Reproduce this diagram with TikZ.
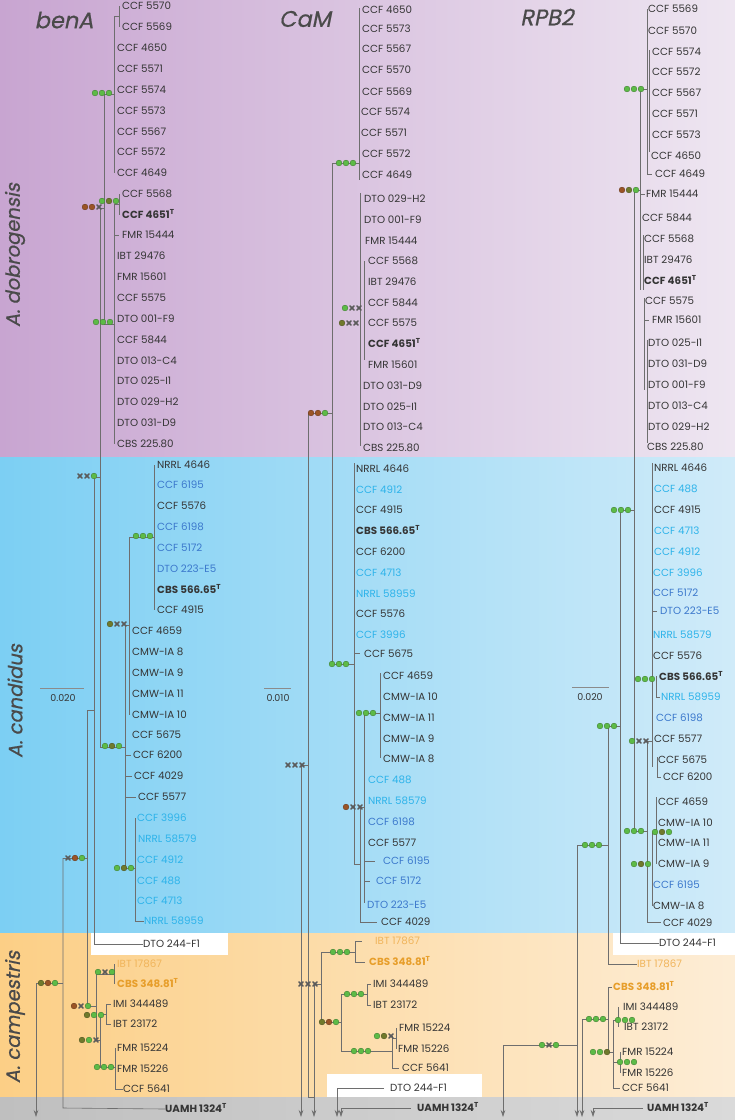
\documentclass[tikz,border=0pt]{standalone}
\usepackage{fontspec}
\setmainfont{Poppins}
\newfontfamily\slfont{Poppins}[FakeSlant=0.2, FakeBold=0.6]
\usetikzlibrary{arrows.meta}
\definecolor{labc}{HTML}{353535}
\definecolor{labcyan}{HTML}{2DB3EA}
\definecolor{labblue}{HTML}{3B78CC}
\definecolor{laborl}{HTML}{F0B45A}
\definecolor{labor}{HTML}{E79E2A}
\definecolor{branch}{HTML}{6E6E6E}
\definecolor{dotg}{HTML}{5DBB47}
\definecolor{doto}{HTML}{707A2C}
\definecolor{dotb}{HTML}{9B5426}
\definecolor{xcol}{HTML}{5A5A5A}
\definecolor{purL}{HTML}{C8A5D1}
\definecolor{purR}{HTML}{EEE6F1}
\definecolor{bluL}{HTML}{7CCFF3}
\definecolor{bluR}{HTML}{D0EBF9}
\definecolor{orL}{HTML}{FCCF86}
\definecolor{orR}{HTML}{FDEDD6}
\definecolor{grL}{HTML}{BFBFBF}
\definecolor{grR}{HTML}{DADADA}
\definecolor{hdr}{HTML}{4A4A4A}
\tikzset{
 lb/.style={anchor=west, inner sep=0pt, text height=7.2pt, text depth=0pt, font=\fontsize{10.3}{11}\selectfont, text=labc},
 lc/.style={lb, text=labcyan},
 lu/.style={lb, text=labblue},
 lol/.style={lb, text=laborl},
 lor/.style={lb, text=labor, font=\fontsize{10.3}{11}\selectfont\bfseries},
 lbf/.style={lb, font=\fontsize{10.3}{11}\selectfont\bfseries},
 br/.style={draw=branch, line width=0.6pt},
 ar/.style={br, -{Stealth[length=7pt,width=4.5pt]}},
 xm/.style={draw=xcol, line width=1.7pt, line cap=round},
 hd/.style={font=\fontsize{22.5}{24}\selectfont\slfont, text=hdr},
 sd/.style={font=\fontsize{19.5}{21}\selectfont\slfont, text=hdr, rotate=90},
 sc/.style={draw=branch!80, line width=0.6pt},
 scl/.style={font=\fontsize{9.5}{10}\selectfont, text=labc},
}
\newcommand\dt[3]{\if x#1\relax\draw[xm] ({#2-2.1},{#3-2.1})--({#2+2.1},{#3+2.1}) ({#2-2.1},{#3+2.1})--({#2+2.1},{#3-2.1});\else\filldraw[fill=dot#1,draw=dot#1!65!black,line width=0.35pt] ({#2},{#3}) circle[radius=2.9];\fi}
\newcommand\trio[5]{\dt{#3}{#1-14}{#2}\dt{#4}{#1-7}{#2}\dt{#5}{#1}{#2}}
\begin{document}
\begin{tikzpicture}[x=1pt,y=-1pt]
\useasboundingbox (0,0) rectangle (735,1120);
% backgrounds
\shade[left color=purL, right color=purR] (0,0) rectangle (735,457);
\shade[left color=bluL, right color=bluR] (0,457) rectangle (735,933);
\shade[left color=orL, right color=orR] (0,933) rectangle (735,1097);
\shade[left color=grL, right color=grR] (0,1097) rectangle (735,1120);
\fill[white] (91,933) rectangle (228,955);
\fill[white] (613,933) rectangle (735,955);
\fill[white] (327,1074) rectangle (482,1097);
% headers and side labels
\node[hd] (hbenA) at (64,20) {benA};
\node[hd] (hCaM) at (305,19) {CaM};
\node[hd] (hRPB) at (547,17) {RPB2};
\node[sd] (sdob) at (15,255) {A. dobrogensis};
\node[sd] (scan) at (15,701) {A. candidus};
\node[sd] (scam) at (15,1017) {A. campestris};
% scale bars
\draw[sc] (40,688)--(84,688); \node[scl] (s1) at (63,698) {0.020};
\draw[sc] (264,688)--(291,688); \node[scl] (s2) at (278,698) {0.010};
\draw[sc] (572,687)--(609,687); \node[scl] (s3) at (590,697) {0.020};

% ================= benA labels
\node[lb] (a1) at (122,6) {CCF 5570};
\node[lb] (a2) at (122,27) {CCF 5569};
\node[lb] (a3) at (117,48) {CCF 4650};
\node[lb] (a4) at (117,69) {CCF 5571};
\node[lb] (a5) at (117,90) {CCF 5574};
\node[lb] (a6) at (117,111) {CCF 5573};
\node[lb] (a7) at (117,132) {CCF 5567};
\node[lb] (a8) at (117,152) {CCF 5572};
\node[lb] (a9) at (117,173) {CCF 4649};
\node[lb] (a10) at (122,194) {CCF 5568};
\node[lbf] (a11) at (122,215) {CCF 4651\textsuperscript{T}};
\node[lb] (a12) at (122,235) {FMR 15444};
\node[lb] (a13) at (117,256) {IBT 29476};
\node[lb] (a14) at (117,277) {FMR 15601};
\node[lb] (a15) at (117,298) {CCF 5575};
\node[lb] (a16) at (117,319) {DTO 001-F9};
\node[lb] (a17) at (117,340) {CCF 5844};
\node[lb] (a18) at (117,361) {DTO 013-C4};
\node[lb] (a19) at (117,381) {DTO 025-I1};
\node[lb] (a20) at (117,402) {DTO 029-H2};
\node[lb] (a21) at (117,423) {DTO 031-D9};
\node[lb] (a22) at (117,444) {CBS 225.80};
\node[lb] (a23) at (157,465) {NRRL 4646};
\node[lu] (a24) at (157,485) {CCF 6195};
\node[lb] (a25) at (157,506) {CCF 5576};
\node[lu] (a26) at (157,527) {CCF 6198};
\node[lu] (a27) at (157,548) {CCF 5172};
\node[lu] (a28) at (157,569) {DTO 223-E5};
\node[lbf] (a29) at (157,590) {CBS 566.65\textsuperscript{T}};
\node[lb] (a30) at (157,610) {CCF 4915};
\node[lb] (a31) at (132,631) {CCF 4659};
\node[lb] (a32) at (132,652) {CMW-IA 8};
\node[lb] (a33) at (132,673) {CMW-IA 9};
\node[lb] (a34) at (132,694) {CMW-IA 11};
\node[lb] (a35) at (132,715) {CMW-IA 10};
\node[lb] (a36) at (132,735) {CCF 5675};
\node[lb] (a37) at (133,755) {CCF 6200};
\node[lb] (a38) at (134,776) {CCF 4029};
\node[lb] (a39) at (138,797) {CCF 5577};
\node[lc] (a40) at (137,818) {CCF 3996};
\node[lc] (a41) at (138,839) {NRRL 58579};
\node[lc] (a42) at (137,860) {CCF 4912};
\node[lc] (a43) at (137,881) {CCF 488};
\node[lc] (a44) at (137,901) {CCF 4713};
\node[lc] (a45) at (144,921) {NRRL 58959};
\node[lb] (a46) at (143,944) {DTO 244-F1};
\node[lol] (a47) at (117,964) {IBT 17867};
\node[lor] (a48) at (117,984) {CBS 348.81\textsuperscript{T}};
\node[lb] (a49) at (113,1004) {IMI 344489};
\node[lb] (a50) at (113,1024) {IBT 23172};
\node[lb] (a51) at (117,1048) {FMR 15224};
\node[lb] (a52) at (117,1069) {FMR 15226};
\node[lb] (a53) at (123,1089) {CCF 5641};
\node[lbf] (a54) at (165,1109) {UAMH 1324\textsuperscript{T}};

% benA branches
\draw[br] (119,6)--(119,27) (114,16.5)--(119,16.5);
\draw[br] (114,16.5)--(114,173);
\draw[br] (104,94)--(114,94);
\draw[br] (119,194)--(119,215) (114,204.5)--(119,204.5);
\draw[br] (114,204.5)--(114,444);
\draw[br] (114,235)--(119,235);
\draw[br] (104,324)--(114,324);
\draw[br] (104,94)--(104,324);
\draw[br] (100,208)--(104,208);
\draw[br] (100,208)--(100,747);
\draw[br] (94,477)--(100,477);
\draw[br] (154,465)--(154,610);
\draw[br] (129,537)--(154,537);
\draw[br] (129,537)--(129,715);
\draw[br] (125,625)--(129,625);
\draw[br] (125,625)--(125,868);
\draw[br] (125,755)--(131,755) (125,776)--(132,776) (125,797)--(136,797);
\draw[br] (100,747)--(125,747);
\draw[br] (135,818)--(135,921)--(a45.west);
\draw[br] (125,868)--(135,868);
\draw[br] (94,477)--(94,944)--(a46.west);
\draw[br] (87,710)--(94,710);
\draw[br] (87,710)--(87,1006);
\draw[br] (63,858)--(87,858);
\draw[br] (96,972)--(96,1040);
\draw[br] (87,1006)--(96,1006);
\draw[br] (114,964)--(114,984) (96,974)--(114,974);
\draw[br] (100,1015)--(100,1067) (96,1040)--(100,1040);
\draw[br] (106,1004)--(106,1024) (100,1014)--(106,1014) (106,1004)--(111,1004) (106,1024)--(111,1024);
\draw[br] (115,1048)--(115,1089)--(a53.west) (100,1067)--(115,1067);
\draw[br] (63,858)--(63,1108)--(a54.west);
\draw[br] (36,983)--(63,983);
\draw[ar] (36,983)--(36,1117);
% benA support
\trio{109}{93}{g}{g}{g}
\trio{116}{201}{g}{o}{g}
\trio{99}{207}{b}{b}{x}
\trio{110}{322}{g}{g}{g}
\trio{94}{476}{x}{x}{g}
\trio{150}{536}{g}{g}{g}
\trio{124}{624}{o}{x}{x}
\trio{119}{746}{g}{o}{g}
\trio{131}{868}{g}{o}{g}
\trio{82}{858}{x}{b}{g}
\trio{88}{1006}{b}{x}{g}
\trio{112}{972}{g}{x}{g}
\trio{96}{1040}{o}{g}{x}
\trio{101}{1015}{o}{g}{g}
\trio{111}{1067}{g}{g}{g}
\trio{55}{983}{o}{b}{g}

% ================= CaM labels
\node[lb] (c1) at (362,10) {CCF 4650};
\node[lb] (c2) at (362,29) {CCF 5573};
\node[lb] (c3) at (362,49) {CCF 5567};
\node[lb] (c4) at (362,70) {CCF 5570};
\node[lb] (c5) at (362,92) {CCF 5569};
\node[lb] (c6) at (361,112) {CCF 5574};
\node[lb] (c7) at (361,133) {CCF 5571};
\node[lb] (c8) at (362,154) {CCF 5572};
\node[lb] (c9) at (362,175) {CCF 4649};
\node[lb] (c10) at (364,199) {DTO 029-H2};
\node[lb] (c11) at (364,220) {DTO 001-F9};
\node[lb] (c12) at (365,241) {FMR 15444};
\node[lb] (c13) at (368,261) {CCF 5568};
\node[lb] (c14) at (368,282) {IBT 29476};
\node[lb] (c15) at (368,303) {CCF 5844};
\node[lb] (c16) at (368,323) {CCF 5575};
\node[lbf] (c17) at (368,344) {CCF 4651\textsuperscript{T}};
\node[lb] (c18) at (368,365) {FMR 15601};
\node[lb] (c19) at (363,386) {DTO 031-D9};
\node[lb] (c20) at (363,407) {DTO 025-I1};
\node[lb] (c21) at (363,427) {DTO 013-C4};
\node[lb] (c22) at (363,448) {CBS 225.80};
\node[lb] (c23) at (356,469) {NRRL 4646};
\node[lc] (c24) at (356,490) {CCF 4912};
\node[lb] (c25) at (356,510) {CCF 4915};
\node[lbf] (c26) at (356,531) {CBS 566.65\textsuperscript{T}};
\node[lb] (c27) at (356,552) {CCF 6200};
\node[lc] (c28) at (356,573) {CCF 4713};
\node[lc] (c29) at (356,594) {NRRL 58959};
\node[lb] (c30) at (356,614) {CCF 5576};
\node[lc] (c31) at (356,635) {CCF 3996};
\node[lb] (c32) at (364,654) {CCF 5675};
\node[lb] (c33) at (383,676) {CCF 4659};
\node[lb] (c34) at (383,697) {CMW-IA 10};
\node[lb] (c35) at (383,718) {CMW-IA 11};
\node[lb] (c36) at (383,739) {CMW-IA 9};
\node[lb] (c37) at (383,759) {CMW-IA 8};
\node[lc] (c38) at (368,780) {CCF 488};
\node[lc] (c39) at (368,801) {NRRL 58579};
\node[lu] (c40) at (368,822) {CCF 6198};
\node[lb] (c41) at (368,843) {CCF 5577};
\node[lu] (c42) at (383,861) {CCF 6195};
\node[lu] (c43) at (376,881) {CCF 5172};
\node[lu] (c44) at (367,905) {DTO 223-E5};
\node[lb] (c45) at (381,922) {CCF 4029};
\node[lol] (c46) at (375,941) {IBT 17867};
\node[lor] (c47) at (369,962) {CBS 348.81\textsuperscript{T}};
\node[lb] (c48) at (373,984) {IMI 344489};
\node[lb] (c49) at (373,1005) {IBT 23172};
\node[lb] (c50) at (399,1028) {FMR 15224};
\node[lb] (c51) at (398,1049) {FMR 15226};
\node[lb] (c52) at (402,1068) {CCF 5641};
\node[lb] (c53) at (390,1088) {DTO 244-F1};
\node[lbf] (c54) at (417,1108) {UAMH 1324\textsuperscript{T}};

% CaM branches
\draw[br] (359,8)--(359,180);
\draw[br] (332,163)--(359,163);
\draw[br] (360.5,193)--(360.5,446);
\draw[br] (364,261)--(364,360);
\draw[br] (332,163)--(332,664);
\draw[br] (308,413)--(332,413);
\draw[br] (354,463)--(354,864)--(360,864);
\draw[br] (354,653)--(360,653);
\draw[br] (332,664)--(354,664);
\draw[br] (380,673)--(380,758) (364,713)--(380,713);
\draw[br] (364,713)--(364,903);
\draw[br] (364,861)--(375,861) (364,881)--(370,881);
\draw[br] (360,807)--(364,807);
\draw[br] (360,807)--(360,922)--(377,922);
\draw[br] (308,413)--(308,1097)--(314,1097);
\draw[br] (301,765)--(308,765);
\draw[ar] (301,765)--(301,1117);
\draw[ar] (314,984)--(314,1117);
\draw[br] (314,984)--(321,984);
\draw[br] (321,952)--(321,1022);
\draw[br] (355,941)--(355,962) (321,952)--(355,952) (355,941)--(362,941) (355,962)--(365,962);
\draw[br] (341,994)--(341,1051) (321,1022)--(341,1022);
\draw[br] (367,984)--(367,1005) (341,994)--(367,994) (367,984)--(371,984) (367,1005)--(371,1005);
\draw[br] (392,1036)--(392,1068)--(399,1068) (341,1051)--(392,1051);
\draw[br] (396,1028)--(396,1049) (392,1038)--(396,1038);
\draw[ar] (c53.west) ++(-6,0) -- (337,1088) -- (337,1117);
\draw[ar] (c54.west) ++(-6,0) -- (341,1108) -- (341,1117);
% CaM support
\trio{353}{163}{g}{g}{g}
\trio{359}{308}{g}{x}{x}
\trio{356}{323}{o}{x}{x}
\trio{325}{413}{b}{b}{g}
\trio{346}{664}{g}{g}{g}
\trio{373}{713}{g}{g}{g}
\trio{360}{807}{b}{x}{x}
\trio{302}{765}{x}{x}{x}
\trio{315}{984}{x}{x}{x}
\trio{347}{952}{g}{g}{g}
\trio{336}{1022}{o}{b}{g}
\trio{361}{994}{g}{g}{g}
\trio{368}{1051}{g}{g}{g}
\trio{391}{1036}{g}{o}{x}

% ================= RPB2 labels
\node[lb] (r1) at (648,9) {CCF 5569};
\node[lb] (r2) at (648,31) {CCF 5570};
\node[lb] (r3) at (652,52) {CCF 5574};
\node[lb] (r4) at (652,72) {CCF 5572};
\node[lb] (r5) at (652,93) {CCF 5567};
\node[lb] (r6) at (652,114) {CCF 5571};
\node[lb] (r7) at (652,135) {CCF 5573};
\node[lb] (r8) at (651,156) {CCF 4650};
\node[lb] (r9) at (655,174) {CCF 4649};
\node[lb] (r10) at (646,194) {FMR 15444};
\node[lb] (r11) at (642,218) {CCF 5844};
\node[lb] (r12) at (644,239) {CCF 5568};
\node[lb] (r13) at (644,260) {IBT 29476};
\node[lbf] (r14) at (644,281) {CCF 4651\textsuperscript{T}};
\node[lb] (r15) at (645,301) {CCF 5575};
\node[lb] (r16) at (652,320) {FMR 15601};
\node[lb] (r17) at (648,343) {DTO 025-I1};
\node[lb] (r18) at (648,364) {DTO 031-D9};
\node[lb] (r19) at (648,385) {DTO 001-F9};
\node[lb] (r20) at (648,406) {DTO 013-C4};
\node[lb] (r21) at (648,427) {DTO 029-H2};
\node[lb] (r22) at (647,447) {CBS 225.80};
\node[lb] (r23) at (654,468) {NRRL 4646};
\node[lc] (r24) at (654,489) {CCF 488};
\node[lb] (r25) at (654,510) {CCF 4915};
\node[lc] (r26) at (654,531) {CCF 4713};
\node[lc] (r27) at (654,552) {CCF 4912};
\node[lc] (r28) at (653,573) {CCF 3996};
\node[lu] (r29) at (653,593) {CCF 5172};
\node[lu] (r30) at (660,611) {DTO 223-E5};
\node[lc] (r31) at (653,635) {NRRL 58579};
\node[lb] (r32) at (653,656) {CCF 5576};
\node[lbf] (r33) at (659,677) {CBS 566.65\textsuperscript{T}};
\node[lc] (r34) at (661,697) {NRRL 58959};
\node[lu] (r35) at (656,718) {CCF 6198};
\node[lb] (r36) at (654,739) {CCF 5577};
\node[lb] (r37) at (658,760) {CCF 5675};
\node[lb] (r38) at (663,777) {CCF 6200};
\node[lb] (r39) at (658,802) {CCF 4659};
\node[lb] (r40) at (658,823) {CMW-IA 10};
\node[lb] (r41) at (658,843) {CMW-IA 11};
\node[lb] (r42) at (658,864) {CMW-IA 9};
\node[lu] (r43) at (653,885) {CCF 6195};
\node[lb] (r44) at (653,906) {CMW-IA 8};
\node[lb] (r45) at (663,923) {CCF 4029};
\node[lb] (r46) at (659,943) {DTO 244-F1};
\node[lol] (r47) at (637,964) {IBT 17867};
\node[lor] (r48) at (613,987) {CBS 348.81\textsuperscript{T}};
\node[lb] (r49) at (623,1007) {IMI 344489};
\node[lb] (r50) at (624,1027) {IBT 23172};
\node[lb] (r51) at (622,1052) {FMR 15224};
\node[lb] (r52) at (622,1073) {FMR 15226};
\node[lb] (r53) at (622,1088) {CCF 5641};
\node[lbf] (r54) at (647,1108) {UAMH 1324\textsuperscript{T}};

% RPB2 branches
\draw[br] (647,9)--(647,174)--(652,174);
\draw[br] (649,50)--(649,152);
\draw[br] (640,89)--(647,89);
\draw[br] (640,89)--(640,290);
\draw[br] (641,194)--(645,194);
\draw[br] (643,235)--(643,290);
\draw[br] (644,298)--(644,390) (644,320)--(649,320);
\draw[br] (647,340)--(647,443);
\draw[br] (634,190)--(640,190);
\draw[br] (634,190)--(634,831);
\draw[br] (620,510)--(634,510);
\draw[br] (620,510)--(620,943)--(r46.west);
\draw[br] (608,726)--(620,726);
\draw[br] (608,726)--(608,964)--(r47.west);
\draw[br] (577,845)--(608,845);
\draw[ar] (577,845)--(577,1117);
\draw[br] (652,463)--(652,767);
\draw[br] (652,611)--(657,611);
\draw[br] (656,676)--(656,697)--(660,697);
\draw[br] (657,757)--(657,777)--(661,777);
\draw[br] (647,741)--(652,741);
\draw[br] (647,741)--(647,922)--(661,922);
\draw[br] (634,831)--(647,831);
\draw[br] (656,797)--(656,864);
\draw[br] (652,832)--(652,906);
\draw[br] (608,987)--(608,1052) (608,987)--(612,987);
\draw[br] (582,1019)--(608,1019);
\draw[ar] (582,1019)--(582,1117);
\draw[br] (613,1020)--(613,1088)--(620,1088) (608,1052)--(613,1052);
\draw[br] (618,1007)--(618,1027) (613,1020)--(618,1020);
\draw[br] (620,1052)--(620,1073) (613,1062)--(620,1062);
\draw[br] (503,1045)--(577,1045);
\draw[ar] (503,1045)--(503,1117);
\draw[ar] (r54.west) ++(-4,0) -- (593,1108) -- (593,1117);
% RPB2 support
\trio{641}{89}{g}{g}{g}
\trio{636}{190}{b}{o}{g}
\trio{628}{510}{g}{g}{g}
\trio{652}{679}{g}{g}{g}
\trio{614}{726}{g}{g}{g}
\trio{646}{741}{g}{x}{x}
\trio{641}{831}{g}{g}{g}
\trio{669}{832}{g}{o}{g}
\trio{599}{845}{g}{g}{g}
\trio{648}{864}{g}{o}{g}
\trio{556}{1045}{g}{x}{g}
\trio{603}{1019}{g}{g}{g}
\trio{607}{1052}{g}{g}{o}
\trio{632}{1020}{g}{g}{g}
\trio{634}{1062}{g}{g}{g}
\end{tikzpicture}
\end{document}
